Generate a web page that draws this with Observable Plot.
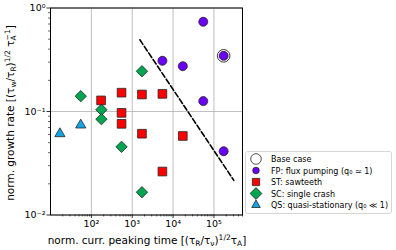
<!DOCTYPE html>
<html><head><meta charset="utf-8">
<script src="https://cdn.jsdelivr.net/npm/d3@7"></script>
<script src="https://cdn.jsdelivr.net/npm/@observablehq/plot@0.6"></script>
<style>body{margin:0;background:#fff}#chart{width:396px;height:250px}</style>
</head><body><div id="chart"></div>
<script>
// ---- data ----
const majorX = [1e2, 1e3, 1e4, 1e5];
const xTickLabels = ["10²", "10³", "10⁴", "10⁵"];
const majorY = [1e-2, 1e-1, 1e0];
const yTickLabels = ["10⁻²", "10⁻¹", "10⁰"];

const baseX = [173000];
const baseY = [0.345];

const fpX = [5480, 17300, 54800, 54800, 173000, 173000];
const fpY = [0.309, 0.274, 0.736, 0.126, 0.345, 0.0413];

const stX = [173, 548, 548, 548, 1730, 1730, 5480, 17300, 5480];
const stY = [0.128, 0.152, 0.097, 0.076, 0.146, 0.061, 0.148, 0.058, 0.0263];

const scX = [55, 176, 176, 1730, 548, 1730];
const scY = [0.1406, 0.104, 0.0843, 0.245, 0.0456, 0.0166];

const qsX = [17, 55];
const qsY = [0.061, 0.074];

const trendX = [1540, 307000];
const trendY = [0.493, 0.0216];

const legendLabels = ["Base case", "FP: flux pumping (q₀ ≃ 1)", "ST: sawteeth", "SC: single crash", "QS: quasi-stationary (q₀ ≪ 1)"];

// ---- build ----
const pts = (xs, ys) => xs.map((x, i) => ({x, y: ys[i]}));
const minorX = [];
[10, 100, 1000, 10000, 100000].forEach(b => { for (let k = 2; k <= 9; k++) if (b * k <= 5e5) minorX.push(b * k); });
const minorY = [];
[0.01, 0.1].forEach(b => { for (let k = 2; k <= 9; k++) minorY.push(b * k); });

const edge = "#262626";
const colFP = "#6a00f4", colST = "#ff0000", colSC = "#00a550", colQS = "#12a6e6";

const plot = Plot.plot({
  width: 396, height: 250,
  marginLeft: 50, marginRight: 154, marginTop: 7.5, marginBottom: 35.5,
  style: {fontFamily: "DejaVu Sans", background: "white", color: "black"},
  x: {type: "log", domain: [10, 5e5]},
  y: {type: "log", domain: [0.01, 1]},
  marks: [
    Plot.gridX(majorX, {stroke: "#b0b0b0", strokeOpacity: 1, strokeWidth: 0.8}),
    Plot.gridY(majorY, {stroke: "#b0b0b0", strokeOpacity: 1, strokeWidth: 0.8}),
    Plot.axisX(minorX, {tickSize: 2, tickFormat: () => "", label: null, strokeWidth: 0.6}),
    Plot.axisY(minorY, {tickSize: 2, tickFormat: () => "", label: null, strokeWidth: 0.6}),
    Plot.axisX(majorX, {tickSize: 3.5, tickPadding: 2, tickFormat: d => xTickLabels[majorX.indexOf(d)], label: null, fontSize: 9.5, strokeWidth: 0.8}),
    Plot.axisY(majorY, {tickSize: 3.5, tickPadding: 1.5, tickFormat: d => yTickLabels[majorY.indexOf(d)], label: null, fontSize: 9.5, strokeWidth: 0.8}),
    Plot.line(pts(trendX, trendY), {x: "x", y: "y", stroke: "black", strokeWidth: 1.6, strokeDasharray: "5.5,2.4"}),
    Plot.dot(pts(baseX, baseY), {x: "x", y: "y", r: 6.3, fill: "white", stroke: edge, strokeWidth: 0.9}),
    Plot.dot(pts(qsX, qsY), {x: "x", y: "y", symbol: "triangle", r: 3.8, fill: colQS, stroke: edge, strokeWidth: 0.8}),
    Plot.dot(pts(scX, scY), {x: "x", y: "y", symbol: "diamond2", r: 5.1, fill: colSC, stroke: edge, strokeWidth: 0.8}),
    Plot.dot(pts(stX, stY), {x: "x", y: "y", symbol: "square", r: 4.9, fill: colST, stroke: edge, strokeWidth: 0.8}),
    Plot.dot(pts(fpX, fpY), {x: "x", y: "y", r: 4.5, fill: colFP, stroke: edge, strokeWidth: 0.8}),
    Plot.frame({stroke: "black", strokeWidth: 1})
  ]
});
document.getElementById("chart").appendChild(plot);

const svg = d3.select(plot);

// axis labels with sub/superscripts
function rich(sel, parts) {
  parts.forEach(p => {
    const t = sel.append("tspan").text(p.t);
    if (p.s) t.attr("font-size", "7.5px");
    if (p.dy) t.attr("dy", p.dy);
    if (p.dx) t.attr("dx", p.dx);
  });
}
const xl = svg.append("text").attr("x", 147).attr("y", 244).attr("text-anchor", "middle")
  .attr("font-size", "10.5px").attr("fill", "black");
rich(xl, [
  {t: "norm. curr. peaking time [(τ"}, {t: "R", s: 1, dy: 2.2}, {t: "/τ", dy: -2.2}, {t: "ν", s: 1, dy: 2.2},
  {t: ")", dy: -2.2}, {t: "1/2", s: 1, dy: -4}, {t: "τ", dy: 4}, {t: "A", s: 1, dy: 2.2}, {t: "]", dy: -2.2}
]);
const yl = svg.append("text").attr("transform", "translate(14,113) rotate(-90)").attr("text-anchor", "middle")
  .attr("font-size", "10.5px").attr("fill", "black");
rich(yl, [
  {t: "norm. growth rate [(τ"}, {t: "w", s: 1, dy: 2.2}, {t: "/τ", dy: -2.2}, {t: "R", s: 1, dy: 2.2},
  {t: ")", dy: -2.2}, {t: "1/2", s: 1, dy: -4}, {t: " τ", dy: 4}, {t: "A", s: 1, dy: 2.2}, {t: "−1", s: 1, dy: -6.5, dx: -5}, {t: "]", dy: 4.3}
]);

// legend
const lg = svg.append("g");
lg.append("rect").attr("x", 245.5).attr("y", 151.5).attr("width", 146).attr("height", 62)
  .attr("rx", 2).attr("fill", "white").attr("fill-opacity", 0.85).attr("stroke", "#cccccc").attr("stroke-width", 0.8);
const legSyms = [
  {sym: d3.symbolCircle, r: 5.3, fill: "white"},
  {sym: d3.symbolCircle, r: 3.3, fill: colFP},
  {sym: d3.symbolSquare, r: 4.1, fill: colST},
  {sym: d3.symbolDiamond2, r: 5.3, fill: colSC},
  {sym: d3.symbolTriangle, r: 3.2, fill: colQS}
];
legendLabels.forEach((lab, i) => {
  const cy = 159 + i * 11.5;
  const s = legSyms[i];
  lg.append("path").attr("d", d3.symbol(s.sym, Math.PI * s.r * s.r)()).attr("transform", `translate(256,${cy})`)
    .attr("fill", s.fill).attr("stroke", edge).attr("stroke-width", 0.8);
  lg.append("text").attr("x", 271).attr("y", cy + 3).attr("text-anchor", "start")
    .attr("font-size", "8px").attr("fill", "black").text(lab);
});
</script></body></html>
